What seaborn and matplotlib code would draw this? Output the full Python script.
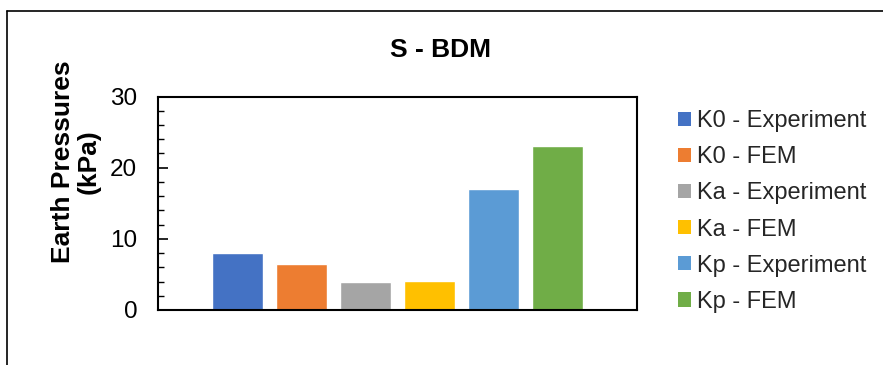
import matplotlib
matplotlib.use("Agg")
import matplotlib.pyplot as plt
from matplotlib.lines import Line2D
from matplotlib.patches import Patch
from matplotlib.ticker import MultipleLocator
import seaborn as sns
import pandas as pd

series = ["K0 - Experiment", "K0 - FEM", "Ka - Experiment", "Ka - FEM",
          "Kp - Experiment", "Kp - FEM"]
values = [8.0, 6.5, 4.0, 4.1, 17.0, 23.0]
colors = ["#4472C4", "#ED7D31", "#A5A5A5", "#FFC000", "#5B9BD5", "#70AD47"]
yticks = [0, 10, 20, 30]
title = "S - BDM"
ylabel = "Earth Pressures\n(kPa)"

sns.set_theme(style="white")
plt.rcParams["font.family"] = ["Liberation Sans", "DejaVu Sans"]

df = pd.DataFrame({"group": [""] * len(series), "series": series, "value": values})

fig = plt.figure(figsize=(8.83, 3.65), dpi=100)
ax = fig.add_axes([158 / 883, 1 - 310 / 365, (637 - 158) / 883, (310 - 96.5) / 365])

sns.barplot(data=df, x="group", y="value", hue="series", hue_order=series,
            palette=colors, saturation=1, gap=0.2, width=0.8, ax=ax,
            legend=False, errorbar=None)

ax.set_xlim(-0.5, 0.5)
ax.set_ylim(0, 30)
ax.set_yticks(yticks)
ax.set_yticklabels([str(t) for t in yticks], fontsize=17.5, color="black")
ax.yaxis.set_minor_locator(MultipleLocator(2))
ax.tick_params(axis="y", which="major", direction="in", length=7, width=1.2,
               left=True, pad=15, colors="black", labelcolor="black")
ax.tick_params(axis="y", which="minor", direction="in", length=4, width=1.0,
               left=True, colors="black")
ax.tick_params(axis="x", bottom=False, labelbottom=False)
ax.set_xlabel("")
ax.set_ylabel("")
for s in ax.spines.values():
    s.set_visible(True)
    s.set_color("black")
    s.set_linewidth(1.5)

fig.text(440 / 883, 1 - 50 / 365, title, ha="center", va="center",
         fontsize=19, fontweight="bold", color="black")
fig.text(76 / 883, 1 - 162 / 365, ylabel, ha="center", va="center",
         rotation=90, fontsize=19, fontweight="bold", color="black",
         linespacing=1.1)

handles = [Patch(facecolor=c, edgecolor="none") for c in colors]
fig.legend(handles, series, loc="upper left",
           bbox_to_anchor=(678 / 883, 1 - 110 / 365), frameon=False,
           fontsize=17, handlelength=0.55, handleheight=0.55, handletextpad=0.25,
           labelspacing=0.6, borderaxespad=0, borderpad=0)

# outer chart frame (top and left edges visible)
fig.add_artist(Line2D([7 / 883, 1], [1 - 11 / 365, 1 - 11 / 365],
                      transform=fig.transFigure, color="black", lw=1.2))
fig.add_artist(Line2D([7 / 883, 7 / 883], [0, 1 - 11 / 365],
                      transform=fig.transFigure, color="black", lw=1.2))

fig.savefig("out.png", dpi=100, facecolor="white")
